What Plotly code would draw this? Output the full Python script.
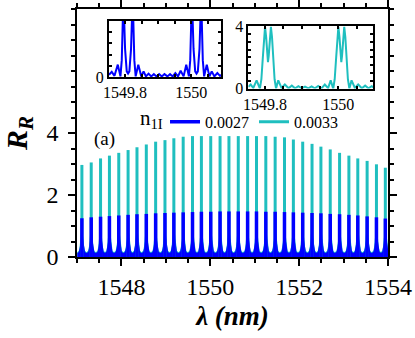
import plotly.graph_objects as go

# comb peaks (nm) and their heights
peak_wl = [1547.11, 1547.32, 1547.53, 1547.73, 1547.94, 1548.15, 1548.35, 1548.56,
           1548.77, 1548.98, 1549.18, 1549.39, 1549.60, 1549.80, 1550.01, 1550.22,
           1550.42, 1550.63, 1550.84, 1551.04, 1551.25, 1551.46, 1551.67, 1551.87,
           1552.08, 1552.29, 1552.49, 1552.70, 1552.91, 1553.12, 1553.32, 1553.53,
           1553.74, 1553.94]
peak_r_0033 = [2.97, 3.05, 3.18, 3.27, 3.36, 3.45, 3.54, 3.63, 3.72, 3.77, 3.83, 3.88,
               3.90, 3.90, 3.90, 3.90, 3.90, 3.90, 3.90, 3.90, 3.90, 3.88, 3.86, 3.79,
               3.72, 3.65, 3.56, 3.47, 3.36, 3.27, 3.18, 3.10, 2.99, 2.88]
peak_r_0027 = [1.25, 1.28, 1.30, 1.32, 1.34, 1.36, 1.38, 1.39, 1.41, 1.42, 1.43, 1.44,
               1.45, 1.46, 1.46, 1.47, 1.47, 1.47, 1.47, 1.47, 1.46, 1.46, 1.45, 1.44,
               1.43, 1.42, 1.41, 1.39, 1.38, 1.36, 1.34, 1.31, 1.28, 1.24]

# foot of each peak (side lobes smeared together at this scale)
foot_offset = [0.0, 0.025, 0.035, 0.05, 0.07, 0.1035]
foot_r_0033 = [0.9, 0.75, 0.6, 0.35, 0.2, 0.15]
foot_r_0027 = [0.8, 0.6, 0.45, 0.28, 0.16, 0.13]

# insets, read point by point
inset_wl_0027 = [1549.7515, 1549.7597, 1549.768, 1549.778, 1549.786, 1549.790, 1549.795,
                 1549.800, 1549.805, 1549.809, 1549.813, 1549.818, 1549.823, 1549.828,
                 1549.832, 1549.840, 1549.849, 1549.856, 1549.863, 1549.871, 1549.879,
                 1549.887, 1549.895, 1549.903, 1549.911, 1549.919, 1549.928, 1549.936,
                 1549.944, 1549.952, 1549.960, 1549.968, 1549.977, 1549.985, 1549.993,
                 1549.997, 1550.002, 1550.007, 1550.012, 1550.016, 1550.020, 1550.025,
                 1550.030, 1550.035, 1550.039, 1550.047, 1550.055, 1550.062, 1550.070,
                 1550.079, 1550.087, 1550.090]
inset_r_0027 = [0.04, 0.09, 0.02, 0.22, 0.01, 0.3, 1.45,
                0.5, 0.1, 0.06, 0.1, 0.5, 1.45, 0.3,
                0.01, 0.22, 0.01, 0.10, 0.01, 0.06, 0.01,
                0.05, 0.01, 0.05, 0.01, 0.05, 0.01, 0.05,
                0.01, 0.07, 0.01, 0.11, 0.01, 0.22, 0.01,
                0.3, 1.45, 0.5, 0.1, 0.06, 0.1, 0.5,
                1.45, 0.3, 0.01, 0.22, 0.01, 0.10, 0.01,
                0.07, 0.02, 0.04]

inset_wl_0033 = [1549.7545, 1549.761, 1549.768, 1549.777, 1549.786, 1549.790, 1549.794,
                 1549.797, 1549.800, 1549.803, 1549.806, 1549.808, 1549.810, 1549.813,
                 1549.816, 1549.819, 1549.822, 1549.826, 1549.830, 1549.836, 1549.845,
                 1549.854, 1549.864, 1549.873, 1549.882, 1549.891, 1549.900, 1549.909,
                 1549.918, 1549.927, 1549.936, 1549.945, 1549.954, 1549.963, 1549.972,
                 1549.979, 1549.986, 1549.990, 1549.994, 1549.997, 1550.000, 1550.003,
                 1550.006, 1550.008, 1550.010, 1550.013, 1550.016, 1550.019, 1550.022,
                 1550.026, 1550.030, 1550.036, 1550.045, 1550.054, 1550.064, 1550.073,
                 1550.082, 1550.091, 1550.0955]
inset_r_0033 = [0.11, 0.26, 0.04, 0.53, 0.0, 0.6, 2.0,
                3.3, 3.95, 3.3, 2.1, 1.7, 2.1, 3.3,
                3.95, 3.3, 2.0, 0.6, 0.0, 0.53, 0.04,
                0.26, 0.02, 0.19, 0.02, 0.15, 0.02, 0.13,
                0.02, 0.14, 0.02, 0.17, 0.02, 0.26, 0.03,
                0.53, 0.0, 0.6, 2.0, 3.3, 3.95, 3.3,
                2.1, 1.7, 2.1, 3.3, 3.95, 3.3, 2.0,
                0.6, 0.0, 0.53, 0.04, 0.26, 0.02, 0.19,
                0.02, 0.15, 0.08]

CYAN = '#1fbfbf'
BLUE = '#0000ff'
FONT = '"Liberation Serif", "Times New Roman", Times, serif'


def sticks(heights):
    xs, ys = [], []
    for c, h in zip(peak_wl, heights):
        xs += [c, c, None]
        ys += [0, h, None]
    return xs, ys


def foot(levels):
    xs, ys = [], []
    for c in peak_wl:
        for o, v in zip(foot_offset[::-1], levels[::-1]):
            xs.append(c - o)
            ys.append(v)
        for o, v in zip(foot_offset[1:], levels[1:]):
            xs.append(c + o)
            ys.append(v)
    return xs, ys


fig = go.Figure()

fx, fy = foot(foot_r_0033)
fig.add_trace(go.Scatter(x=fx, y=fy, mode='lines', fill='tozeroy', fillcolor=CYAN,
                         line=dict(width=0, color=CYAN), showlegend=False))
fx, fy = foot(foot_r_0027)
fig.add_trace(go.Scatter(x=fx, y=fy, mode='lines', fill='tozeroy', fillcolor=BLUE,
                         line=dict(width=0, color=BLUE), showlegend=False))

sx, sy = sticks(peak_r_0033)
fig.add_trace(go.Scatter(x=sx, y=sy, mode='lines', line=dict(color=CYAN, width=3),
                         name='0.0033', legendrank=2))
sx, sy = sticks(peak_r_0027)
fig.add_trace(go.Scatter(x=sx, y=sy, mode='lines', line=dict(color=BLUE, width=3.5),
                         name='0.0027', legendrank=1))

# insets
fig.add_trace(go.Scatter(x=inset_wl_0027, y=inset_r_0027, mode='lines',
                         line=dict(color=BLUE, width=2), xaxis='x2', yaxis='y2',
                         showlegend=False))
fig.add_trace(go.Scatter(x=inset_wl_0033, y=inset_r_0033, mode='lines',
                         line=dict(color=CYAN, width=2), xaxis='x3', yaxis='y3',
                         showlegend=False))

main_ax = dict(showline=True, linecolor='black', linewidth=1.5, mirror='allticks',
               ticks='outside', ticklen=7, tickwidth=1.5, tickcolor='black',
               showgrid=False, zeroline=False, automargin=False,
               tickfont=dict(family=FONT, size=24, color='black'))
inset_ax = dict(showline=True, linecolor='black', linewidth=2, mirror='allticks',
                ticks='inside', ticklen=3, tickwidth=1.5, tickcolor='black',
                showgrid=False, zeroline=False, automargin=False,
                tickfont=dict(family=FONT, size=16, color='black'))

fig.update_layout(
    width=415, height=338,
    margin=dict(l=77, r=27, t=9, b=81),
    plot_bgcolor='white', paper_bgcolor='white',
    font=dict(family=FONT, color='black'),
    xaxis=dict(main_ax, range=[1547, 1554], tick0=1548, dtick=2,
               minor=dict(dtick=0.5, tick0=1547, ticklen=4, ticks='outside',
                          tickcolor='black', tickwidth=1.5),
               title=dict(text='<b><i>λ (nm)</i></b>', standoff=8,
                          font=dict(family=FONT, size=27, color='black'))),
    yaxis=dict(main_ax, range=[0, 8], tickvals=[0, 2, 4], ticklabelstandoff=5,
               minor=dict(dtick=0.5, tick0=0, ticklen=4, ticks='outside',
                          tickcolor='black', tickwidth=1.5),
               title=dict(text='<b><i>R</i></b><sub><b><i>R</i></b></sub>', standoff=10,
                          font=dict(family=FONT, size=30, color='black'))),
    xaxis2=dict(inset_ax, anchor='y2', domain=[0.103, 0.463],
                range=[1549.7515, 1550.09], tickvals=[1549.8, 1550],
                ticktext=['1549.8', '1550'],
                minor=dict(dtick=0.05, tick0=1549.8, ticklen=3, ticks='inside',
                           tickcolor='black')),
    yaxis2=dict(inset_ax, anchor='x2', domain=[0.726, 0.952], range=[0, 1],
                tickvals=[0], minor=dict(dtick=0.2, tick0=0, ticklen=3,
                                         ticks='inside', tickcolor='black')),
    xaxis3=dict(inset_ax, anchor='y3', domain=[0.551, 0.953],
                range=[1549.7545, 1550.0955], tickvals=[1549.8, 1550],
                ticktext=['1549.8', '1550'],
                minor=dict(dtick=0.05, tick0=1549.8, ticklen=3, ticks='inside',
                           tickcolor='black')),
    yaxis3=dict(inset_ax, anchor='x3', domain=[0.679, 0.931], range=[0, 4],
                tickvals=[0, 4], minor=dict(dtick=0.5, tick0=0, ticklen=3,
                                            ticks='inside', tickcolor='black')),
    legend=dict(orientation='h', x=0.283, y=0.545, xanchor='left', yanchor='middle',
                bgcolor='rgba(0,0,0,0)', font=dict(family=FONT, size=16, color='black'),
                itemwidth=30, tracegroupgap=0),
    annotations=[
        dict(text='n<sub>1I</sub>', xref='paper', yref='paper', x=0.196, y=0.555,
             xanchor='left', yanchor='middle', showarrow=False,
             font=dict(family=FONT, size=21, color='black')),
        dict(text='(a)', xref='paper', yref='paper', x=0.09, y=0.476,
             xanchor='center', yanchor='middle', showarrow=False,
             font=dict(family=FONT, size=19, color='black')),
    ],
)

fig.write_html("out.html", config={'displayModeBar': False},
               post_script="document.body.style.margin='0';"
                           "document.body.style.overflow='hidden';")
